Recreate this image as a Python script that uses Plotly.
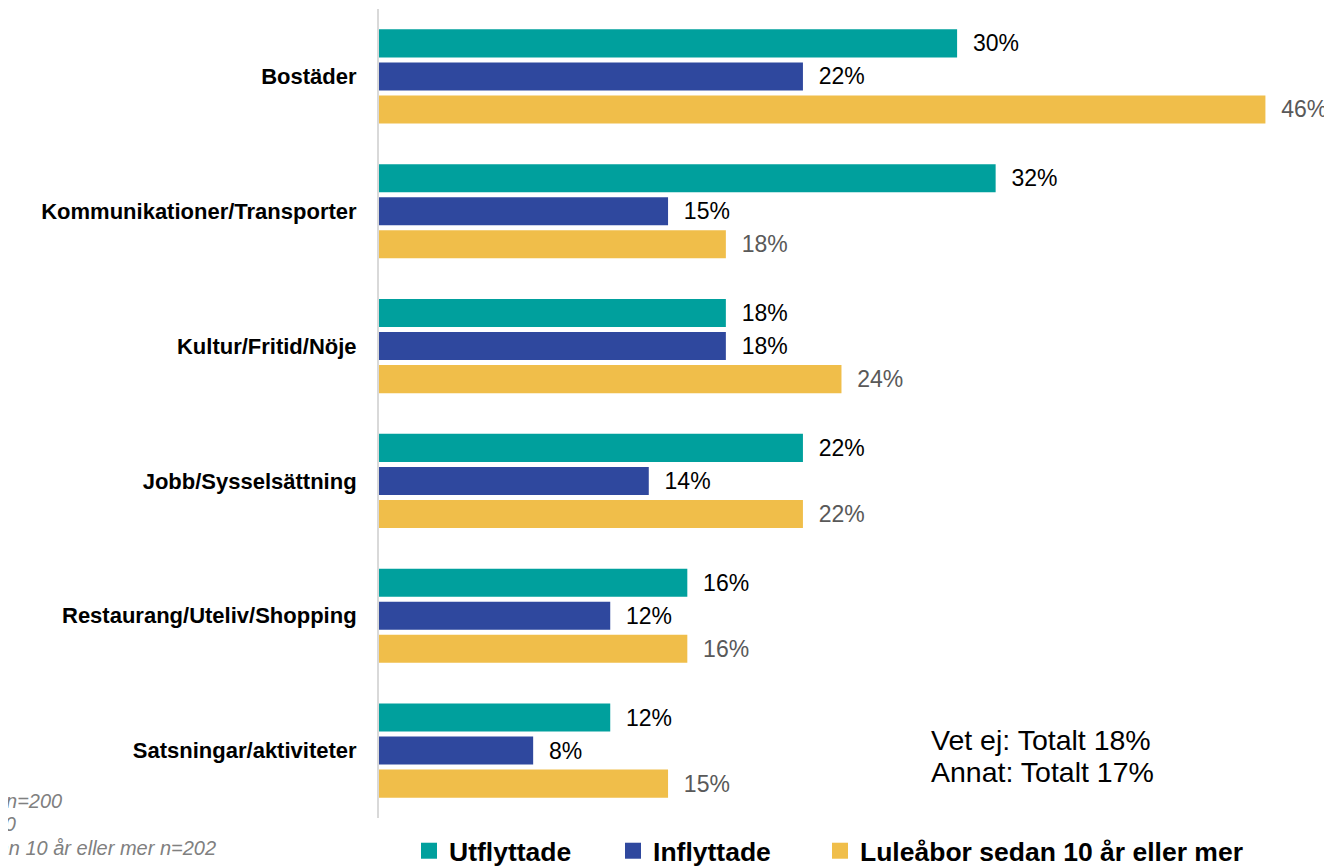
import plotly.graph_objects as go

categories = ["Bostäder", "Kommunikationer/Transporter", "Kultur/Fritid/Nöje",
              "Jobb/Sysselsättning", "Restaurang/Uteliv/Shopping", "Satsningar/aktiviteter"]
series_names = ["Utflyttade", "Inflyttade", "Luleåbor sedan 10 år eller mer"]
utflyttade = [30, 32, 18, 22, 16, 12]
inflyttade = [22, 15, 18, 14, 12, 8]
luleabor = [46, 18, 24, 22, 16, 15]
series_values = [utflyttade, inflyttade, luleabor]
colors = ["#00A09D", "#2F489E", "#F0BE4A"]
label_colors = ["#000000", "#000000", "#595959"]
footnotes = ["Utflyttade n=200", "Inflyttade n=200", "Luleåbor sedan 10 år eller mer n=202"]
side_notes = ["Vet ej: Totalt 18%", "Annat: Totalt 17%"]

FONT = "Arial, 'Liberation Sans', sans-serif"
# page has an 8px body margin, so the figure is drawn 8px smaller and offset
OFF = 8
W, H = 1332 - OFF, 866 - OFF
L, R, T, B = 371, 0, 1, 48
PW, PH = W - L - R, H - T - B
PX_PER_UNIT = 19.27

def px_x(p):
    return (p - L) / PW

def px_y(p):
    return (H - B - p) / PH

fig = go.Figure()
for name, vals, col, lc in zip(series_names, series_values, colors, label_colors):
    fig.add_trace(go.Bar(
        y=categories, x=vals, name=name, orientation="h",
        marker=dict(color=col, line=dict(width=0)),
        texttemplate="\u00a0\u00a0%{x}%", textposition="outside",
        textfont=dict(family=FONT, size=23, color=lc),
        cliponaxis=False, hoverinfo="skip", showlegend=False,
    ))

# legend entries (square markers like the reference legend)
pads = ["\u00a0" * 5, "\u00a0" * 6, ""]
for name, col, pad in zip(series_names, colors, pads):
    fig.add_trace(go.Scatter(
        x=[None], y=[None], mode="markers", name=name + pad,
        marker=dict(symbol="square", size=16, color=col),
        showlegend=True, hoverinfo="skip",
    ))

fig.update_layout(
    width=W, height=H,
    margin=dict(l=L, r=R, t=T, b=B, autoexpand=False),
    paper_bgcolor="white", plot_bgcolor="white",
    barmode="group", bargap=0.265, bargroupgap=0.15,
    font=dict(family=FONT, color="#000000"),
    xaxis=dict(range=[0, PW / PX_PER_UNIT], visible=False, showgrid=False, zeroline=False),
    yaxis=dict(autorange="reversed", showgrid=False, zeroline=False,
               showline=True, linecolor="#D9D9D9", linewidth=2,
               ticks="", ticklabelstandoff=16,
               tickfont=dict(family=FONT, size=22, color="#000000", weight="bold")),
    showlegend=True,
    legend=dict(orientation="h", x=px_x(401), xanchor="left", y=px_y(843), yanchor="middle",
                font=dict(family=FONT, size=26.5, color="#000000", weight="bold"),
                traceorder="normal", itemclick=False, itemdoubleclick=False,
                bgcolor="rgba(0,0,0,0)", itemsizing="trace"),
)

for txt, yc in zip(side_notes, [732, 764]):
    fig.add_annotation(text=txt, xref="paper", yref="paper",
                       x=px_x(921), y=px_y(yc), xanchor="left", yanchor="middle",
                       align="left", showarrow=False,
                       font=dict(family=FONT, size=28.5, color="#000000"))

foot_ends = [56, 10, 210]
foot_centers = [793, 816, 840]
for txt, xe, yc in zip(footnotes, foot_ends, foot_centers):
    fig.add_annotation(text=txt, xref="paper", yref="paper",
                       x=px_x(xe), y=px_y(yc), xanchor="right", yanchor="middle",
                       showarrow=False, align="right",
                       font=dict(family=FONT, size=20, color="#808080", style="italic"))

fig.write_html("out.html")
